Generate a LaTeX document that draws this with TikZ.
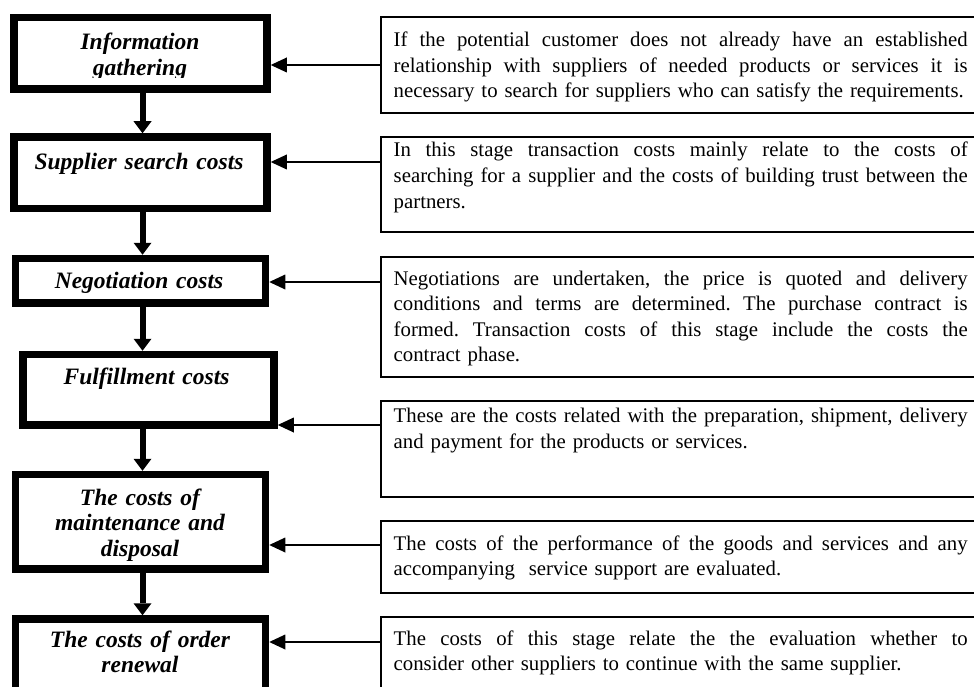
\documentclass[tikz,border=0pt]{standalone}
\usepackage{fontspec}
\setmainfont{Liberation Serif}
\usetikzlibrary{arrows.meta}
\newcommand{\jline}[1]{\leavevmode\hbox to 574pt{\spaceskip=0.25em plus 1fil\relax\xspaceskip=\spaceskip #1}}
\newcommand{\nline}[1]{\mbox{#1}}
\begin{document}
\begin{tikzpicture}[x=1pt,y=-1pt,
  lbox/.style={draw, line width=7.5pt, rectangle, inner sep=0pt},
  rbox/.style={draw, line width=1.8pt, rectangle, inner sep=0pt, outer sep=0pt, anchor=north west, minimum width=609pt},
  ltext/.style={font=\fontsize{23.5}{25.5}\selectfont\bfseries\itshape, text width=260pt, align=center, inner sep=0pt, anchor=base},
  rtext/.style={font=\fontsize{20.8}{25.6}\selectfont\frenchspacing, text width=574pt, align=left, inner sep=0pt, anchor=base west},
  varrow/.style={line width=6pt, -{Triangle[width=18pt,length=12pt,line width=0pt]}},
  harrow/.style={line width=1.8pt, -{Triangle[width=15pt,length=16pt,line width=0pt]}},
]
\clip (0,0) rectangle (974,687);
\fill[white] (0,0) rectangle (974,687);

% left boxes
\node[lbox, minimum width=253pt, minimum height=71.5pt] (b1) at (140.5,53.25) {};
\node[lbox, minimum width=253pt, minimum height=71.5pt] (b2) at (140.5,172.75) {};
\node[lbox, minimum width=250pt, minimum height=44.5pt] (b3) at (140.5,280.75) {};
\node[lbox, minimum width=251pt, minimum height=70.5pt] (b4) at (148.5,389.75) {};
\node[lbox, minimum width=250pt, minimum height=94.5pt] (b5) at (140.5,521.75) {};
\node[lbox, minimum width=250pt, minimum height=121pt] (b6) at (140.5,679.5) {};

% left texts
\begin{scope}
  \clip (0,0) rectangle (300,78);
  \node[ltext] (t1) at (140,50) {Information\\gathering};
\end{scope}
\node[ltext] (t2) at (139,170) {Supplier search costs};
\node[ltext] (t3) at (139,288) {Negotiation costs};
\node[ltext] (t4) at (146.5,384) {Fulf\kern0pt illment costs};
\begin{scope}
  \clip (0,480) rectangle (300,560);
  \node[ltext] (t5) at (140,505) {The costs of\\maintenance and\\disposal};
\end{scope}
\node[ltext] (t6) at (140,647) {The costs of order\\renewal};

% right boxes
\node[rbox, minimum height=96pt] (r1) at (381,17) {};
\node[rbox, minimum height=95pt] (r2) at (381,137) {};
\node[rbox, minimum height=120pt] (r3) at (381,257) {};
\node[rbox, minimum height=96pt] (r4) at (381,401) {};
\node[rbox, minimum height=72pt] (r5) at (381,521) {};
\node[rbox, minimum height=120pt] (r6) at (381,617) {};

% right texts
\node[rtext] (s1) at (393.5,46.7) {\jline{If the potential customer does not already have an established}\\\jline{relationship with suppliers of needed products or services it is}\\\nline{necessary to search for suppliers who can satisfy the requirements.}};
\node[rtext] (s2) at (393.5,157) {\jline{In this stage transaction costs mainly relate to the costs of}\\\jline{searching for a supplier and the costs of building trust between the}\\\nline{partners.}};
\node[rtext] (s3) at (393.5,285) {\jline{Negotiations are undertaken, the price is quoted and delivery}\\\jline{conditions and terms are determined. The purchase contract is}\\\jline{formed. Transaction costs of this stage include the costs the}\\\nline{contract phase.}};
\node[rtext] (s4) at (393.5,422.7) {\jline{These are the costs related with the preparation, shipment, delivery}\\\nline{and payment for the products or services.}};
\node[rtext] (s5) at (393.5,550) {\jline{The costs of the performance of the goods and services and any}\\\nline{accompanying\ \ service support are evaluated.}};
\node[rtext] (s6) at (393.5,645) {\jline{The costs of this stage relate the the evaluation whether to}\\\nline{consider other suppliers to continue with the same supplier.}};

% vertical arrows
\coordinate (ax) at (142.5,0);
\draw[varrow] (b1.south -| ax) -- (b2.north -| ax);
\draw[varrow] (b2.south -| ax) -- (b3.north -| ax);
\draw[varrow] (b3.south -| ax) -- (b4.north -| ax);
\draw[varrow] (b4.south -| ax) -- (b5.north -| ax);
\draw[varrow] (b5.south -| ax) -- (b6.north -| ax);

% horizontal arrows
\coordinate (h1) at (0,65);
\coordinate (h2) at (0,162);
\coordinate (h3) at (0,282);
\coordinate (h4) at (0,425);
\coordinate (h5) at (0,545);
\coordinate (h6) at (0,642);
\draw[harrow] (r1.west |- h1) -- (b1.east |- h1);
\draw[harrow] (r2.west |- h2) -- (b2.east |- h2);
\draw[harrow] (r3.west |- h3) -- (b3.east |- h3);
\draw[harrow] (r4.west |- h4) -- (b4.east |- h4);
\draw[harrow] (r5.west |- h5) -- (b5.east |- h5);
\draw[harrow] (r6.west |- h6) -- (b6.east |- h6);
\end{tikzpicture}
\end{document}
